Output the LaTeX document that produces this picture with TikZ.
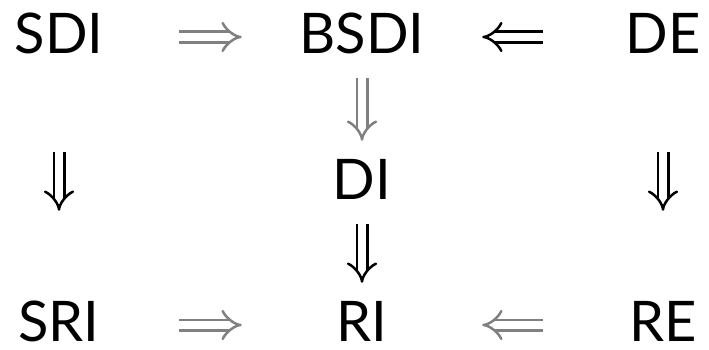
\documentclass[tikz,border=0pt]{standalone}
\usepackage{fontspec}
\setmainfont{Lato}
\usetikzlibrary{arrows.meta}
\begin{document}
\begin{tikzpicture}[x=1pt,y=1pt,
  lbl/.style={inner sep=0pt, minimum width=240pt, text height=40pt, text depth=0pt, font=\fontsize{56}{60}\selectfont},
  impl/.style={line width=2.5pt, double distance=8pt, -{Implies}},
  gimpl/.style={impl, draw=gray}]
\useasboundingbox (0,0) rectangle (709,349);
\node[lbl] (SDI)  at (59,316)  {SDI};
\node[lbl] (BSDI) at (362,316) {BSDI};
\node[lbl] (DE)   at (663,316) {DE};
\node[lbl] (DI)   at (362,170) {DI};
\node[lbl] (SRI)  at (59,28)   {SRI};
\node[lbl] (RI)   at (362,28)  {RI};
\node[lbl] (RE)   at (663,28)  {RE};
\draw[gimpl] ([yshift=-4pt]SDI.east) -- ([yshift=-4pt]BSDI.west);
\draw[impl]  ([yshift=-4pt]DE.west) -- ([yshift=-4pt]BSDI.east);
\draw[gimpl, shorten <=25pt, shorten >=18pt] (BSDI.south) -- (DI.north);
\draw[impl, shorten <=25pt, shorten >=18pt] (DI.south) -- (RI.north);
\draw[impl, shorten <=99pt, shorten >=90pt] (SDI.south) -- (SRI.north);
\draw[impl, shorten <=99pt, shorten >=90pt] (DE.south) -- (RE.north);
\draw[gimpl] ([yshift=-4pt]SRI.east) -- ([yshift=-4pt]RI.west);
\draw[gimpl] ([yshift=-4pt]RE.west) -- ([yshift=-4pt]RI.east);
\end{tikzpicture}
\end{document}
